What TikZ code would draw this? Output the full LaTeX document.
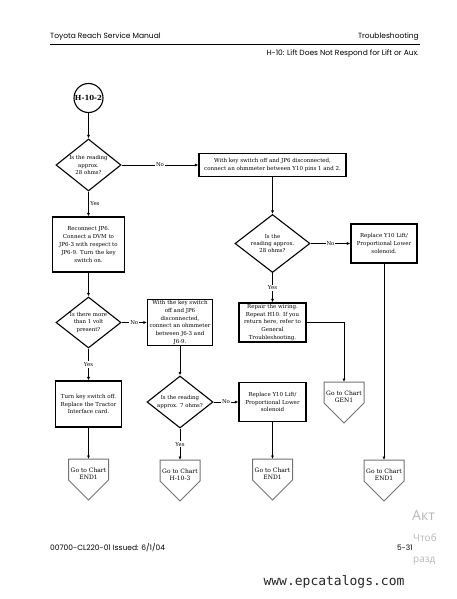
\documentclass[tikz,border=0pt]{standalone}
\usepackage{fontspec}
\setmainfont{DejaVu Serif}
\newfontfamily\hdrf{Poppins}
\newfontfamily\monof{DejaVu Sans Mono}
\newfontfamily\wmf{Open Sans}
\usetikzlibrary{shapes.geometric,arrows.meta}
\newcommand{\pentnode}[4]{%
  \coordinate (#1) at (#2,#3);
  \draw[pent] (#2-20,#3) -- (#2+20,#3) -- (#2+20,#3+21) -- (#2,#3+41) -- (#2-20,#3+21) -- cycle;
  \node[ptext] (#1t) at (#2,#3+14.5) {#4};}
\begin{document}
\begin{tikzpicture}[x=1pt,y=-1pt,
  box/.style={draw, line width=1.1pt, rectangle, inner sep=0, align=center, font=\fontsize{5.5}{7.8}\selectfont},
  dia/.style={draw, line width=1.1pt, diamond, inner sep=0},
  dtext/.style={align=center, inner sep=0, font=\fontsize{5.4}{7.2}\selectfont},
  ptext/.style={align=center, inner sep=0, font=\fontsize{6}{7.3}\selectfont},
  arr/.style={line width=0.9pt, -{Latex[length=3.5pt,width=3pt]}},
  lab/.style={fill=white, inner sep=1pt, font=\fontsize{5.4}{6}\selectfont},
  pent/.style={draw=black!55, line width=1pt},
  hdr/.style={inner sep=0, font=\hdrf\fontsize{7.5}{9}\selectfont},
]
\fill[white] (0,0) rectangle (457,599);
\useasboundingbox (0,0) rectangle (457,599);

% header
\node[hdr, anchor=west] (h1) at (50,37) {Toyota Reach Service Manual};
\node[hdr, anchor=east] (h2) at (419,37) {Troubleshooting};
\draw[line width=1pt] (50,45) -- (420,45);
\node[hdr, anchor=east] (h3) at (419,53.5) {H-10: Lift Does Not Respond for Lift or Aux.};

% footer
\node[hdr, anchor=west] (f1) at (50,548) {00700-CL220-01 Issued: 6/1/04};
\node[hdr, anchor=east] (f2) at (413,548) {5-31};
\node[inner sep=0, text=black!85, font=\monof\fontsize{13}{15}\selectfont] (f3) at (334,582) {www.epcatalogs.com};
\node[inner sep=0, anchor=west, text=black!28, font=\wmf\fontsize{14}{16}\selectfont] (w1) at (412,515) {Акт};
\node[inner sep=0, anchor=west, text=black!28, font=\wmf\fontsize{10}{12}\selectfont] (w2) at (413,538) {Чтоб};
\node[inner sep=0, anchor=west, text=black!28, font=\wmf\fontsize{10}{12}\selectfont] (w3) at (413,561) {разд};

% start circle
\node[draw, circle, line width=1.1pt, minimum size=29, inner sep=0, font=\bfseries\fontsize{7}{8}\selectfont] (c) at (88.5,98) {H-10-2};

% diamonds
\node[dia, minimum width=65, minimum height=52] (d1) at (88.5,165) {};
\node[dtext] (d1t) at (d1) {Is the reading\\approx.\\28 ohms?};
\node[dia, minimum width=75, minimum height=58] (d2) at (272.5,243.5) {};
\node[dtext] (d2t) at (d2) {Is the\\reading approx.\\28 ohms?};
\node[dia, minimum width=65, minimum height=51] (d3) at (88.5,322.5) {};
\node[dtext] (d3t) at (d3) {Is there more\\than 1 volt\\present?};
\node[dia, minimum width=66, minimum height=52] (d4) at (180,402) {};
\node[dtext] (d4t) at (d4) {Is the reading\\approx. 7 ohms?};

% boxes
\node[box, minimum width=147, minimum height=23] (b2) at (272.5,165) {With key switch off and JP6 disconnected,\\connect an ohmmeter between Y10 pins 1 and 2.};
\node[box, minimum width=66, minimum height=39] (r1) at (384,243.5) {Replace Y10 Lift/\\Proportional Lower\\solenoid.};
\node[box, minimum width=72, minimum height=55] (b5) at (88.5,244.5) {Reconnect JP6.\\Connect a DVM to\\JP6-3 with respect to\\JP6-9. Turn the key\\switch on.};
\node[box, minimum width=65, minimum height=46] (b7) at (180,322.5) {With the key switch\\off and JP6\\disconnected,\\connect an ohmmeter\\between J6-3 and\\J6-9.};
\node[box, minimum width=67, minimum height=39] (rep) at (272.5,322.5) {Repair the wiring.\\Repeat H10. If you\\return here, refer to\\General\\Troubleshooting.};
\node[box, minimum width=67, minimum height=39] (r2) at (272.5,402) {Replace Y10 Lift/\\Proportional Lower\\solenoid};
\node[box, minimum width=66, minimum height=46] (b11) at (88.5,404) {Turn key switch off.\\Replace the Tractor\\Interface card.};

% off-page connectors
\pentnode{p1}{88.5}{459}{Go to Chart\\END1}
\pentnode{p2}{180}{460}{Go to Chart\\H-10-3}
\pentnode{p3}{272.5}{459}{Go to Chart\\END1}
\pentnode{p4}{384}{460}{Go to Chart\\END1}
\pentnode{gen}{344}{382}{Go to Chart\\GEN1}

% connectors
\draw[arr] (c) -- (d1);
\draw[arr] (d1.east) -- node[lab] {No} (b2.west);
\draw[arr] (d1.south) -- node[lab, fill=none, right, xshift=0.5pt] {Yes} (b5.north);
\draw[arr] (b2.south) -- (d2.north);
\draw[arr] (d2.east) -- node[lab] {No} (r1.west);
\draw[arr] (d2.south) -- node[lab] {Yes} (rep.north);
\draw[arr] (r1.south) -- (p4);
\draw[arr] (rep.east) -| (gen);
\draw[arr] (b5.south) -- (d3.north);
\draw[arr] (d3.east) -- node[lab] {No} (b7.west);
\draw[arr] (d3.south) -- node[lab] {Yes} (b11.north);
\draw[arr] (b7.south) -- (d4.north);
\draw[arr] (d4.east) -- node[lab] {No} (r2.west);
\draw[arr] (d4.south) -- node[lab] {Yes} (p2);
\draw[arr] (r2.south) -- (p3);
\draw[arr] (b11.south) -- (p1);
\end{tikzpicture}
\end{document}
